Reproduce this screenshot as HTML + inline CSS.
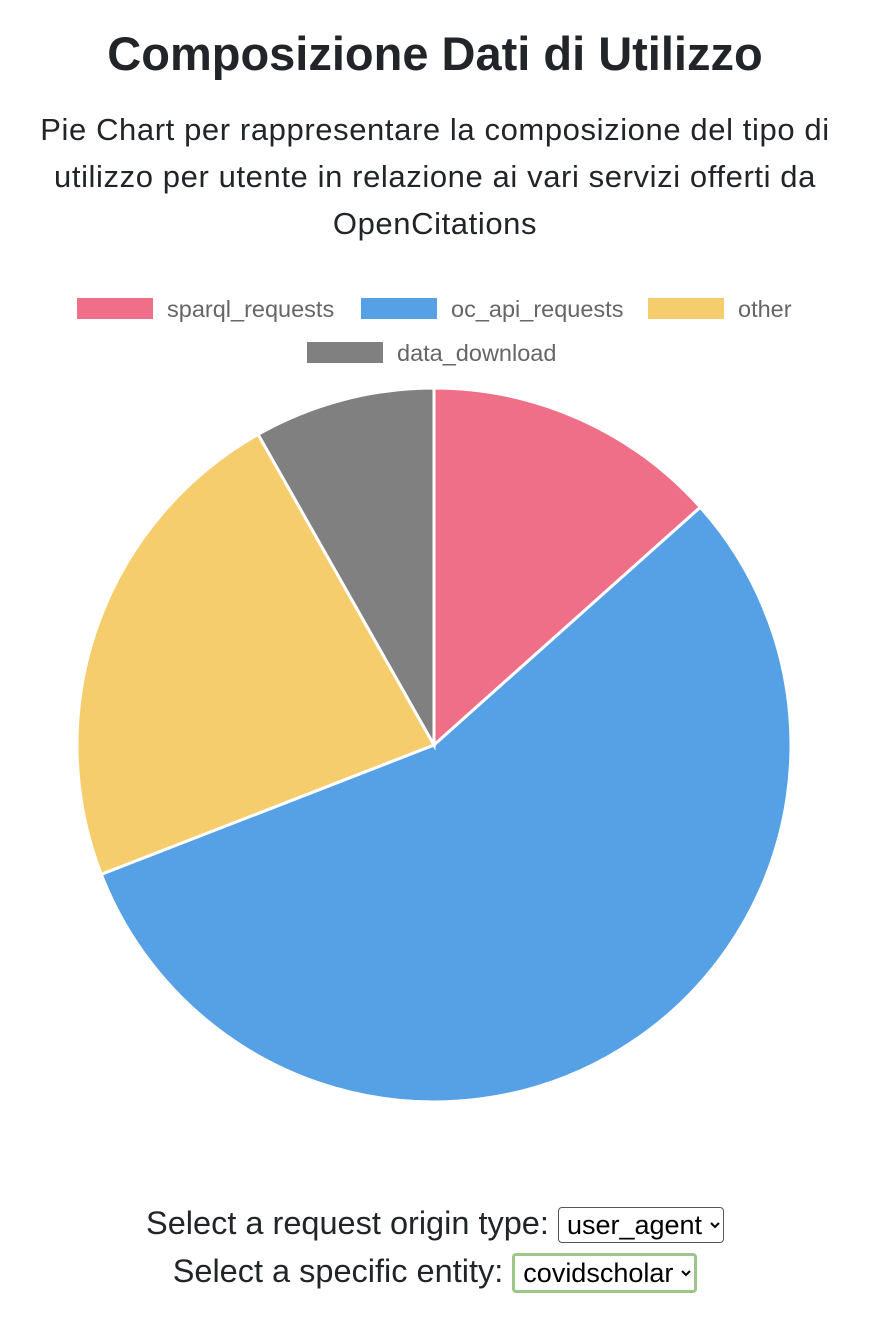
<!DOCTYPE html>
<html><head><meta charset="utf-8"><style>
body{margin:0;width:870px;height:1336px;background:#fff;font-family:"Liberation Sans",Arial,sans-serif;color:#212529;position:relative;overflow:hidden}
h1{position:absolute;top:26px;left:0;width:870px;text-align:center;margin:0;font-size:47px;font-weight:bold;line-height:56px}
.sub{position:absolute;top:106px;left:0;width:870px;text-align:center;font-size:31px;letter-spacing:0.6px;line-height:47px;margin:0;white-space:nowrap}
.ctl{position:absolute;left:0;width:870px;text-align:center;font-size:32.5px;white-space:nowrap}
select{font-size:27px;font-family:"Liberation Sans",Arial,sans-serif;padding:1px 4px;border:1px solid #555;border-radius:4px;background:#fff;vertical-align:middle;color:#000}
</style></head><body>
<h1>Composizione Dati di Utilizzo</h1>
<p class="sub">Pie Chart per rappresentare la composizione del tipo di<br>utilizzo per utente in relazione ai vari servizi offerti da<br>OpenCitations</p>
<svg id="chart" width="870" height="1120" style="position:absolute;top:0;left:0"></svg>
<div class="ctl" style="top:1205px">Select a request origin type: <select><option>user_agent</option></select></div>
<div class="ctl" style="top:1253px">Select a specific entity: <select style="border:3px solid #9cc68a"><option>covidscholar</option></select></div>
<script>
const labels=["sparql_requests","oc_api_requests","other","data_download"];
const values=[13.4,55.7,22.7,8.2];
const colors=["#ef6f88","#56a0e5","#f6cd6c","#808080"];
const NS="http://www.w3.org/2000/svg";
const svg=document.getElementById('chart');
const cx=434,cy=745,r=357;
const total=values.reduce((a,b)=>a+b,0);
let a0=0;
values.forEach((v,i)=>{
  const a1=a0+v/total*2*Math.PI;
  const x0=cx+r*Math.sin(a0),y0=cy-r*Math.cos(a0),x1=cx+r*Math.sin(a1),y1=cy-r*Math.cos(a1);
  const p=document.createElementNS(NS,'path');
  p.setAttribute('d',`M${cx},${cy}L${x0},${y0}A${r},${r} 0 ${a1-a0>Math.PI?1:0} 1 ${x1},${y1}Z`);
  p.setAttribute('fill',colors[i]);p.setAttribute('stroke','#fff');p.setAttribute('stroke-width','3');
  
  
  svg.appendChild(p);a0=a1;
});
const legPos=[[77,298],[361,298],[648,298],[307,342]];
labels.forEach((l,i)=>{
  const g=document.createElementNS(NS,'g');
  
  
  const rc=document.createElementNS(NS,'rect');
  rc.setAttribute('x',legPos[i][0]);rc.setAttribute('y',legPos[i][1]);rc.setAttribute('width',76);rc.setAttribute('height',21);rc.setAttribute('fill',colors[i]);
  const t=document.createElementNS(NS,'text');
  t.setAttribute('x',legPos[i][0]+90);t.setAttribute('y',legPos[i][1]+19);t.setAttribute('font-size','23.5');t.setAttribute('fill','#666');
  t.setAttribute('font-family','"Liberation Sans",Arial,sans-serif');
  t.textContent=l;
  g.appendChild(rc);g.appendChild(t);svg.appendChild(g);
});
</script>
</body></html>
